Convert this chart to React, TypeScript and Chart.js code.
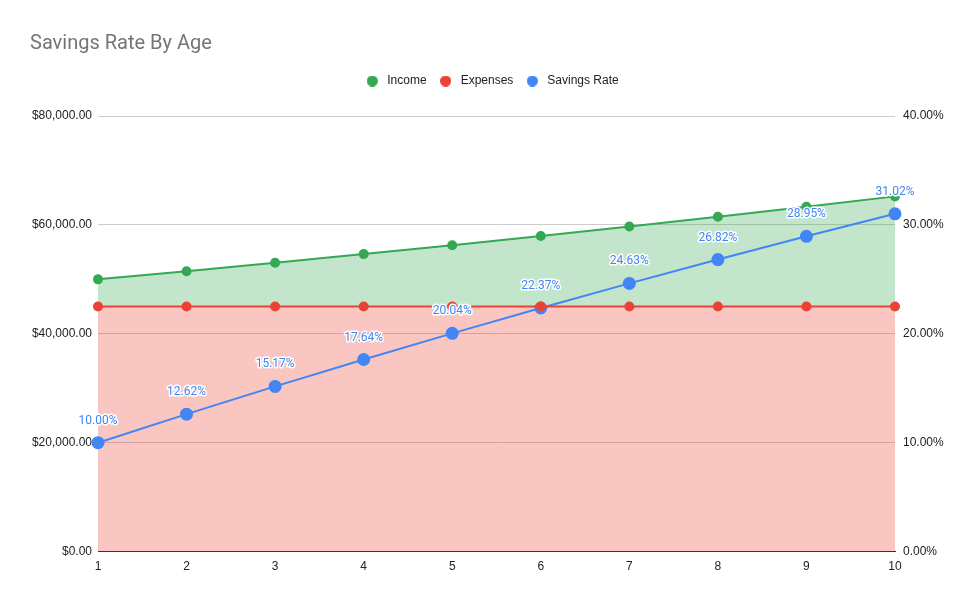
import React, { useEffect, useRef } from "react";
import { Chart, registerables, Plugin } from "chart.js";

Chart.register(...registerables);

const ages = ["1", "2", "3", "4", "5", "6", "7", "8", "9", "10"];
const income = [50000, 51500, 53045, 54636.35, 56275.44, 57963.7, 59702.61, 61493.69, 63338.5, 65238.66];
const expenses = [45000, 45000, 45000, 45000, 45000, 45000, 45000, 45000, 45000, 45000];
const savingsRate = [0.1, 0.1262, 0.1517, 0.1764, 0.2004, 0.2237, 0.2463, 0.2682, 0.2895, 0.3102];

const FONT = "Roboto, Arial, sans-serif";
const AXIS_FONT = "'Liberation Sans', Arial, sans-serif";
const COLORS = ["#34a853", "#ea4335", "#4285f4"];

const pct = (v: number) => (v * 100).toFixed(2) + "%";
const money = (v: number) =>
  "$" + v.toLocaleString("en-US", { minimumFractionDigits: 2, maximumFractionDigits: 2 });

// small round legend marker
const dot = (color: string) => {
  const c = document.createElement("canvas");
  c.width = 11;
  c.height = 11;
  const g = c.getContext("2d")!;
  g.fillStyle = color;
  g.beginPath();
  g.arc(5.5, 5.5, 5.5, 0, Math.PI * 2);
  g.fill();
  return c;
};

const App: React.FC = () => {
  const canvasRef = useRef<HTMLCanvasElement | null>(null);
  const chartRef = useRef<Chart | null>(null);

  useEffect(() => {
    document.body.style.margin = "0";
    const canvas = canvasRef.current;
    if (!canvas) return;
    const ctx = canvas.getContext("2d");
    if (!ctx) return;

    const dots = COLORS.map(dot);

    // extra room under the legend
    const legendGap: Plugin<"line"> = {
      id: "legendGap",
      beforeInit(chart) {
        const legend: any = (chart as any).legend;
        if (!legend) return;
        const fit = legend.fit;
        legend.fit = function () {
          fit.call(legend);
          legend.height += 19;
        };
      },
    };

    // percent labels above the savings rate points
    const labelPlugin: Plugin<"line"> = {
      id: "rateLabels",
      afterDatasetsDraw(chart) {
        const meta = chart.getDatasetMeta(2);
        const c = chart.ctx;
        c.save();
        c.font = `12px ${FONT}`;
        c.textAlign = "center";
        c.textBaseline = "middle";
        c.lineJoin = "round";
        meta.data.forEach((pt, i) => {
          const text = pct(savingsRate[i]);
          const y = pt.y - 22;
          c.strokeStyle = "#ffffff";
          c.lineWidth = 3;
          c.strokeText(text, pt.x, y);
          c.fillStyle = "#4285f4";
          c.fillText(text, pt.x, y);
        });
        c.restore();
      },
    };

    chartRef.current = new Chart(ctx, {
      type: "line",
      data: {
        labels: ages,
        datasets: [
          {
            label: "Income",
            data: income,
            borderColor: COLORS[0],
            backgroundColor: "rgba(52,168,83,0.3)",
            pointBackgroundColor: COLORS[0],
            pointBorderColor: COLORS[0],
            pointRadius: 4,
            borderWidth: 2,
            fill: 1,
            yAxisID: "y",
          },
          {
            label: "Expenses",
            data: expenses,
            borderColor: COLORS[1],
            backgroundColor: "rgba(234,67,53,0.3)",
            pointBackgroundColor: COLORS[1],
            pointBorderColor: COLORS[1],
            pointRadius: 4,
            borderWidth: 2,
            fill: "origin",
            yAxisID: "y",
          },
          {
            label: "Savings Rate",
            data: savingsRate,
            borderColor: COLORS[2],
            backgroundColor: COLORS[2],
            pointBackgroundColor: COLORS[2],
            pointBorderColor: COLORS[2],
            pointRadius: 5.5,
            borderWidth: 2,
            fill: false,
            yAxisID: "y1",
          },
        ],
      },
      options: {
        animation: false,
        responsive: false,
        layout: { padding: { top: 32, left: 30, right: 22, bottom: 20 } },
        plugins: {
          filler: { drawTime: "beforeDatasetsDraw" },
          tooltip: { enabled: false },
          title: {
            display: true,
            text: "Savings Rate By Age",
            align: "start",
            color: "#757575",
            font: { family: FONT, size: 20, weight: "normal" },
            padding: { top: 0, bottom: 9 },
          },
          legend: {
            position: "top",
            labels: {
              usePointStyle: true,
              pointStyleWidth: 18,
              boxWidth: 7,
              boxHeight: 7,
              padding: 10,
              color: "#222",
              font: { family: AXIS_FONT, size: 12 },
              generateLabels: (chart) =>
                Chart.defaults.plugins.legend.labels
                  .generateLabels(chart)
                  .map((item, i) => ({ ...item, pointStyle: dots[i] })),
            },
          },
        },
        scales: {
          x: {
            grid: { display: false, drawTicks: false },
            border: { display: true, color: "#333", width: 1 },
            ticks: { color: "#222", font: { family: AXIS_FONT, size: 12 }, padding: 8, maxRotation: 0 },
          },
          y: {
            position: "left",
            min: 0,
            max: 80000,
            afterFit: (scale) => {
              scale.width = 68;
            },
            ticks: {
              stepSize: 20000,
              color: "#222",
              font: { family: AXIS_FONT, size: 12 },
              padding: 6,
              callback: (v) => money(Number(v)),
            },
            grid: { color: "#cccccc", drawTicks: false },
            border: { display: false },
          },
          y1: {
            position: "right",
            min: 0,
            max: 0.4,
            afterFit: (scale) => {
              scale.width = 57;
            },
            ticks: {
              stepSize: 0.1,
              color: "#222",
              font: { family: AXIS_FONT, size: 12 },
              padding: 8,
              callback: (v) => pct(Number(v)),
            },
            grid: { display: false, drawTicks: false },
            border: { display: false },
          },
        },
      },
      plugins: [legendGap, labelPlugin],
    });

    return () => {
      chartRef.current?.destroy();
      chartRef.current = null;
    };
  }, []);

  return (
    <div style={{ width: 974, height: 602, background: "#fff" }}>
      <canvas ref={canvasRef} width={974} height={602} style={{ width: 974, height: 602 }} />
    </div>
  );
};

export default App;
